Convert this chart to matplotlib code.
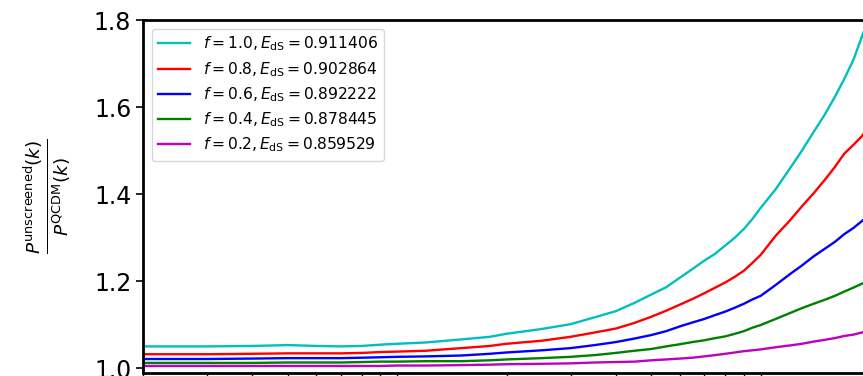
import matplotlib
matplotlib.use("Agg")
import matplotlib.pyplot as plt

# wavenumbers k [h/Mpc]
k = [0.02, 0.03, 0.04, 0.05, 0.06, 0.07, 0.08, 0.09, 0.10, 0.12, 0.15, 0.18,
     0.20, 0.25, 0.30, 0.35, 0.40, 0.45, 0.50, 0.55, 0.60, 0.65, 0.70, 0.75,
     0.80, 0.85, 0.90, 0.95, 1.00, 1.10, 1.20, 1.30, 1.40, 1.50, 1.60, 1.70,
     1.80, 1.90, 2.00]

# P_unscreened / P_QCDM for each coupling fraction f
ratio_f10 = [1.050, 1.050, 1.051, 1.053, 1.051, 1.050, 1.051, 1.054, 1.056, 1.059,
             1.066, 1.072, 1.079, 1.090, 1.101, 1.117, 1.131, 1.150, 1.169, 1.186,
             1.208, 1.228, 1.247, 1.263, 1.282, 1.300, 1.320, 1.343, 1.368, 1.411,
             1.457, 1.500, 1.543, 1.582, 1.623, 1.665, 1.708, 1.762, 1.810]
ratio_f08 = [1.032, 1.032, 1.033, 1.034, 1.034, 1.034, 1.035, 1.037, 1.038, 1.040,
             1.046, 1.051, 1.056, 1.063, 1.072, 1.082, 1.091, 1.104, 1.118, 1.132,
             1.146, 1.159, 1.172, 1.185, 1.197, 1.210, 1.224, 1.242, 1.260, 1.304,
             1.338, 1.372, 1.402, 1.432, 1.462, 1.493, 1.513, 1.533, 1.560]
ratio_f06 = [1.021, 1.021, 1.022, 1.023, 1.023, 1.023, 1.024, 1.025, 1.026, 1.027,
             1.029, 1.033, 1.036, 1.041, 1.046, 1.053, 1.060, 1.068, 1.076, 1.085,
             1.096, 1.105, 1.113, 1.122, 1.130, 1.139, 1.148, 1.158, 1.166, 1.191,
             1.215, 1.236, 1.257, 1.274, 1.290, 1.308, 1.322, 1.338, 1.352]
ratio_f04 = [1.012, 1.012, 1.012, 1.013, 1.013, 1.013, 1.014, 1.015, 1.015, 1.016,
             1.016, 1.018, 1.020, 1.023, 1.026, 1.030, 1.035, 1.040, 1.044, 1.050,
             1.055, 1.060, 1.064, 1.069, 1.073, 1.079, 1.085, 1.093, 1.099, 1.113,
             1.126, 1.138, 1.148, 1.157, 1.166, 1.176, 1.185, 1.194, 1.201]
ratio_f02 = [1.005, 1.005, 1.005, 1.005, 1.005, 1.005, 1.005, 1.005, 1.006, 1.006,
             1.007, 1.008, 1.009, 1.010, 1.011, 1.013, 1.014, 1.015, 1.018, 1.020,
             1.022, 1.024, 1.027, 1.030, 1.033, 1.036, 1.039, 1.041, 1.043, 1.048,
             1.052, 1.056, 1.061, 1.065, 1.069, 1.074, 1.077, 1.082, 1.085]

labels = [r"$f = 1.0, E_{\rm dS} = 0.911406$",
          r"$f = 0.8, E_{\rm dS} = 0.902864$",
          r"$f = 0.6, E_{\rm dS} = 0.892222$",
          r"$f = 0.4, E_{\rm dS} = 0.878445$",
          r"$f = 0.2, E_{\rm dS} = 0.859529$"]
colors = ["c", "r", "b", "g", "m"]
series = [ratio_f10, ratio_f08, ratio_f06, ratio_f04, ratio_f02]

fig = plt.figure(figsize=(8.63, 3.76), dpi=100)
ax = fig.add_axes([143 / 863, 1 - 372.5 / 376, (870 - 143) / 863, (372.5 - 20) / 376])

for vals, c, lab in zip(series, colors, labels):
    ax.plot(k, vals, color=c, lw=1.7, label=lab)

ax.set_xscale("log")
ax.set_xlim(0.02, 2.0)
ax.set_ylim(0.99, 1.8)
ax.set_yticks([1.0, 1.2, 1.4, 1.6, 1.8])
ax.set_yticklabels(["1.0", "1.2", "1.4", "1.6", "1.8"])
ax.tick_params(axis="y", labelsize=17, length=5, width=1.2)
ax.tick_params(axis="x", which="both", width=1.0, labelbottom=False)
for sp in ax.spines.values():
    sp.set_linewidth(2.0)

ax.set_ylabel(r"$\frac{P^{\rm unscreened}(k)}{P^{\rm QCDM}(k)}$", fontsize=19)
ax.yaxis.set_label_coords((72 - 143) / 727, 0.5)

ax.legend(loc="upper left", fontsize=11.2, labelspacing=0.42,
          handlelength=2.1, borderaxespad=0.55)

fig.savefig("out.png", dpi=100)
